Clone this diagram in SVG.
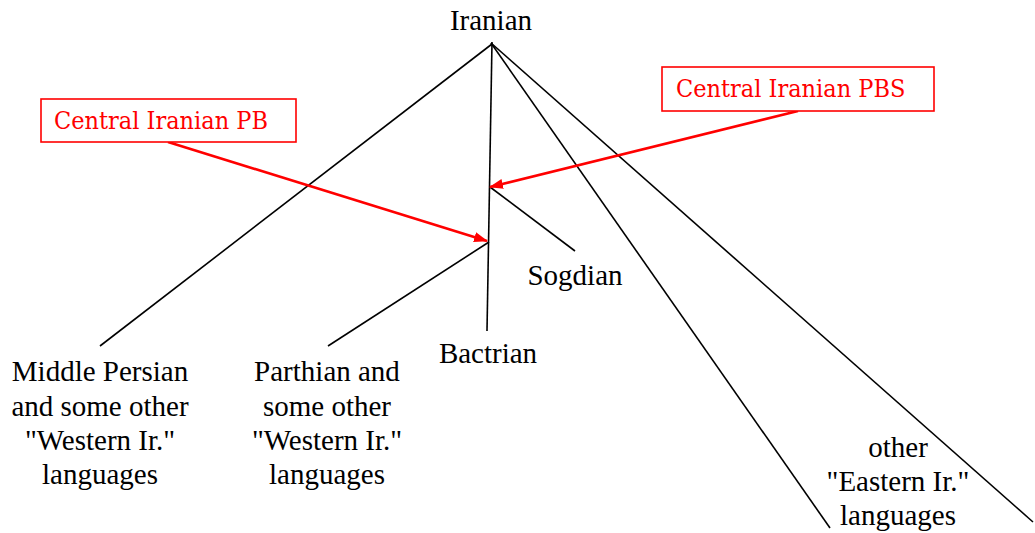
<svg xmlns="http://www.w3.org/2000/svg" width="1035" height="533" viewBox="0 0 1035 533">
<style>
.t{font-family:"Liberation Serif","Times New Roman",serif;font-size:29px;fill:#000;text-anchor:middle}
.r{font-family:"DejaVu Serif Condensed","DejaVu Serif",serif;font-stretch:condensed;font-size:25px;fill:#ff0000}
.e{stroke:#000;stroke-width:1.6;fill:none}
.a{stroke:#ff0000;stroke-width:2.6;fill:none}
.box{fill:#fff;stroke:#ff0000;stroke-width:1.6}
</style>
<defs>
<marker id="ah" markerWidth="14" markerHeight="10" refX="13" refY="5" orient="auto" markerUnits="userSpaceOnUse">
<path d="M0,0 L14,5 L0,10 Z" fill="#ff0000"/>
</marker>
</defs>
<rect width="1035" height="533" fill="#fff"/>
<g id="connectors">
<line class="e" x1="492" y1="44" x2="100" y2="346"/>
<line class="e" x1="492" y1="42" x2="487" y2="331"/>
<line class="e" x1="491" y1="43" x2="830" y2="528"/>
<line class="e" x1="491" y1="43" x2="1033" y2="522"/>
<line class="e" x1="490" y1="187" x2="575" y2="251"/>
<line class="e" x1="489" y1="242" x2="328" y2="346"/>
<line class="a" x1="168" y1="142" x2="487" y2="241" marker-end="url(#ah)"/>
<line class="a" x1="798" y1="111" x2="490" y2="187" marker-end="url(#ah)"/>
</g>
<g id="iranian"><text class="t" x="491" y="30">Iranian</text></g>
<g id="pb"><rect class="box" x="41" y="99" width="255" height="43"/><text class="r" x="54" y="129">Central Iranian PB</text></g>
<g id="pbs"><rect class="box" x="662" y="67" width="272" height="44"/><text class="r" x="676" y="97">Central Iranian PBS</text></g>
<g id="middle-persian"><text class="t" x="100" y="381">Middle Persian</text><text class="t" x="100" y="415.5">and some other</text><text class="t" x="100" y="450">"Western Ir."</text><text class="t" x="100" y="484">languages</text></g>
<g id="parthian"><text class="t" x="327" y="381">Parthian and</text><text class="t" x="327" y="415.5">some other</text><text class="t" x="327" y="450">"Western Ir."</text><text class="t" x="327" y="484">languages</text></g>
<g id="bactrian"><text class="t" x="488" y="363">Bactrian</text></g>
<g id="sogdian"><text class="t" x="575" y="285">Sogdian</text></g>
<g id="eastern"><text class="t" x="898" y="457">other</text><text class="t" x="898" y="491">"Eastern Ir."</text><text class="t" x="898" y="525">languages</text></g>
</svg>
